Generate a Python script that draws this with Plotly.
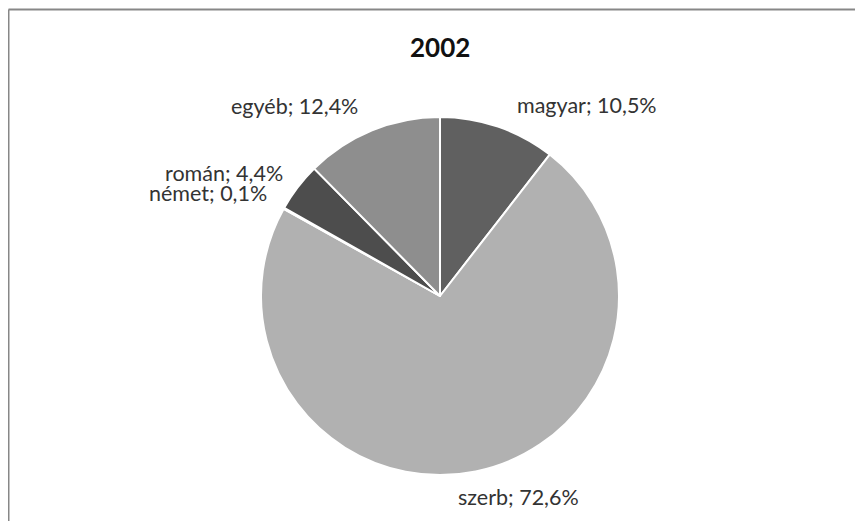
import math
import plotly.graph_objects as go

# ---- data ----
title_text = "2002"
categories = ["magyar", "szerb", "német", "román", "egyéb"]
values = [10.5, 72.6, 0.1, 4.4, 12.4]
colors = ["#606060", "#b1b1b1", "#8a8a8a", "#4d4d4d", "#8e8e8e"]

W, H = 863, 521
OFF = 8  # page body margin in the browser
CX, CY, R = 440 - OFF, 296 - OFF, 179  # pie centre / radius in figure px

# label nudges (px) to mimic the original label placement
nudge_x = [10, 38, 4, 5, -4]
nudge_y = [0, 11, 4, 0, 3]

fig = go.Figure()
fig.add_trace(go.Pie(
    labels=categories,
    values=values,
    sort=False,
    direction="clockwise",
    rotation=0,
    textinfo="none",
    hoverinfo="label+percent",
    marker=dict(colors=colors, line=dict(color="white", width=2)),
    domain=dict(x=[(CX - R) / W, (CX + R) / W], y=[1 - (CY + R) / H, 1 - (CY - R) / H]),
))

def fmt(v):
    return f"{v:.1f}".replace(".", ",") + "%"

total = sum(values)
cum = 0.0
annotations = []
for i, (c, v) in enumerate(zip(categories, values)):
    mid = (cum + v / 2) / total * 2 * math.pi
    cum += v
    s, co = math.sin(mid), math.cos(mid)
    px = CX + 1.13 * R * s
    py = CY - 1.13 * R * co
    if co < -0.7:
        xa, ya = "center", "top"
    elif s > 0:
        xa, ya = "left", "middle"
    else:
        xa, ya = "right", "middle"
    annotations.append(dict(
        x=px / W, y=1 - py / H, xref="paper", yref="paper",
        text=f"{c}; {fmt(v)}", showarrow=False,
        xanchor=xa, yanchor=ya, xshift=nudge_x[i], yshift=nudge_y[i],
        borderpad=0,
        font=dict(family="Lato, Liberation Sans, sans-serif", size=21.5, color="#333333"),
    ))

annotations.append(dict(
    x=CX / W, y=1 - (47 - OFF) / H, xref="paper", yref="paper",
    text=f"<b>{title_text}</b>", showarrow=False, xanchor="center", yanchor="middle",
    font=dict(family="Lato, Liberation Sans, sans-serif", size=26, color="#111111"),
))

fig.update_layout(
    width=W, height=H,
    margin=dict(l=0, r=0, t=0, b=0),
    paper_bgcolor="white", plot_bgcolor="white",
    showlegend=False,
    annotations=annotations,
    shapes=[
        dict(type="line", xref="paper", yref="paper", x0=0.5 / W, x1=1.0, y0=1 - 1.5 / H, y1=1 - 1.5 / H,
             line=dict(color="#878787", width=2)),
        dict(type="line", xref="paper", yref="paper", x0=0.5 / W, x1=0.5 / W, y0=1 - 1.5 / H, y1=0,
             line=dict(color="#878787", width=2)),
    ],
)

fig.write_html("out.html")
